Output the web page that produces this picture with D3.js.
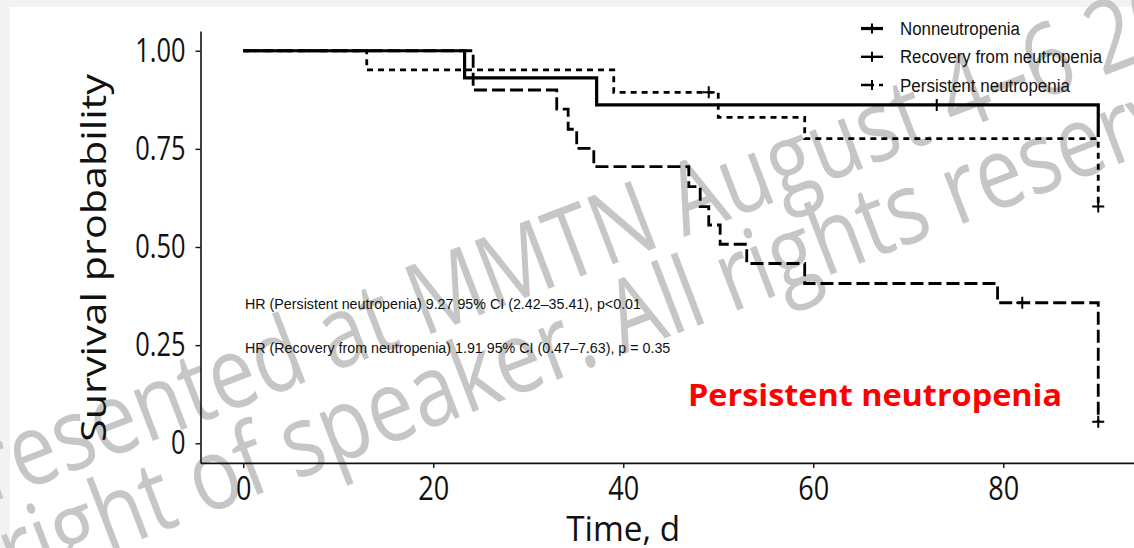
<!DOCTYPE html>
<html>
<head>
<meta charset="utf-8">
<script src="https://cdn.jsdelivr.net/npm/d3@7"></script>
<style>
  body { margin: 0; background: #f3f3f3; }
  svg { display: block; }
</style>
</head>
<body>
<svg id="chart" width="1134" height="548"></svg>
<script>
// KM step values (time in days, survival probability)
const groups = ['Nonneutropenia', 'Recovery from neutropenia', 'Persistent neutropenia'];

const nonTimes = [0, 23.3, 37.2, 90];
const nonSurv = [1, 0.931, 0.862, 0.78];
const nonCensor = [73];

const recTimes = [0, 13, 39, 50, 59.1, 90];
const recSurv = [1, 0.951, 0.894, 0.83, 0.776, 0.603];
const recCensor = [49, 90];

const perTimes = [0, 24.2, 33, 34.2, 35.1, 36.9, 46.9, 48.1, 49, 50.2, 53, 59.1, 79.4, 90];
const perSurv = [1, 0.9, 0.851, 0.8, 0.751, 0.705, 0.654, 0.603, 0.556, 0.507, 0.458, 0.407, 0.358, 0.055];
const perCensor = [82, 90];

const xTicks = [0, 20, 40, 60, 80];
const yTicks = [0, 0.25, 0.5, 0.75, 1];
const yTickLabels = ['0', '0.25', '0.50', '0.75', '1.00'];

const hrLines = [
  'HR (Persistent neutropenia) 9.27 95% CI (2.42–35.41), p<0.01',
  'HR (Recovery from neutropenia) 1.91 95% CI (0.47–7.63), p = 0.35'
];
const callout = 'Persistent neutropenia';
const watermark = ['Presented at MMTN August 4–6 2023', 'Copyright of speaker. All rights reserved'];

// squash glyphs horizontally, the slide image is stretched vertically
function squeeze(sel, k) {
  sel.each(function() {
    const w = this.getComputedTextLength();
    d3.select(this).attr('textLength', w * k).attr('lengthAdjust', 'spacingAndGlyphs');
  });
}
function fitTo(sel, w) {
  sel.attr('textLength', w).attr('lengthAdjust', 'spacingAndGlyphs');
}

class SurvivalPlot {
  constructor(_config) {
    this.config = {
      selection: _config.selection,
      containerWidth: _config.containerWidth || 1134,
      containerHeight: _config.containerHeight || 548,
    };
    this.series = _config.series;
    this.margin = { left: 200.5, top: 31.1, bottom: 85.1 };
    this.init();
  }

  init() {
    let vis = this;
    vis.svg = d3.select(vis.config.selection);

    vis.svg.append('rect')
      .attr('x', 10).attr('y', 7)
      .attr('width', vis.config.containerWidth)
      .attr('height', vis.config.containerHeight)
      .style('fill', 'white');

    // faint slide watermark, sits under the plot
    const wm = vis.svg.append('g').attr('class', 'watermark')
      .style('font-family', '"Open Sans", sans-serif')
      .style('font-size', '100px')
      .style('fill', '#c6c6c6');
    wm.append('text')
      .attr('transform', 'translate(-56,521) rotate(-21)')
      .text(watermark[0])
      .call(fitTo, 1430);
    wm.append('text')
      .attr('transform', 'translate(-168,658) rotate(-21)')
      .text(watermark[1])
      .call(fitTo, 1544);

    vis.xScale = d3.scaleLinear()
      .domain([-4.5, 94.5])
      .range([vis.margin.left, vis.margin.left + 940.5]);
    vis.yScale = d3.scaleLinear()
      .domain([-0.05, 1.05])
      .range([vis.config.containerHeight - vis.margin.bottom, vis.margin.top]);
  }

  render() {
    let vis = this;
    const h = vis.config.containerHeight - vis.margin.bottom;

    const yAxis = d3.axisLeft(vis.yScale)
      .tickValues(yTicks)
      .tickFormat((d, i) => yTickLabels[i])
      .tickSize(5).tickSizeOuter(0).tickPadding(10);
    const xAxis = d3.axisBottom(vis.xScale)
      .tickValues(xTicks)
      .tickSize(5).tickSizeOuter(0).tickPadding(9);

    const yAxisG = vis.svg.append('g')
      .attr('transform', `translate(${vis.margin.left},0)`)
      .call(yAxis);
    const xAxisG = vis.svg.append('g')
      .attr('transform', `translate(0,${h})`)
      .call(xAxis);

    [yAxisG, xAxisG].forEach(g => {
      g.select('.domain').attr('stroke', '#111').attr('stroke-width', 1.6);
      g.selectAll('.tick line').attr('stroke', '#111').attr('stroke-width', 1.4);
      g.selectAll('.tick text')
        .attr('fill', '#111')
        .style('font-family', '"Open Sans", sans-serif')
        .style('font-size', '33px');
    });
    yAxisG.selectAll('.tick text').call(squeeze, 0.77);
    xAxisG.selectAll('.tick text').call(squeeze, 0.82);

    vis.svg.append('text')
      .attr('transform', 'translate(106,258) rotate(-90)')
      .attr('text-anchor', 'middle')
      .style('font-family', '"Open Sans", sans-serif')
      .style('font-size', '34px')
      .attr('fill', '#111')
      .text('Survival probability')
      .call(fitTo, 368);

    vis.svg.append('text')
      .attr('x', vis.xScale(40)).attr('y', 541)
      .attr('text-anchor', 'middle')
      .style('font-family', '"Open Sans", sans-serif')
      .style('font-size', '35px')
      .attr('fill', '#111')
      .text('Time, d')
      .call(fitTo, 114);

    // step curves
    const line = d3.line()
      .x(d => vis.xScale(d[0]))
      .y(d => vis.yScale(d[1]))
      .curve(d3.curveStepAfter);

    const survAt = (s, t) => s.surv[d3.bisectRight(s.times, t) - 1];

    vis.svg.append('g').selectAll('path')
      .data(vis.series)
      .join('path')
      .attr('d', s => line(d3.zip(s.times, s.surv)))
      .attr('fill', 'none')
      .attr('stroke', '#000')
      .attr('stroke-width', s => s.dash ? 2.8 : 3.2)
      .attr('stroke-dasharray', s => s.dash);

    const plus = 'M-6,0H6M0,-6V6';
    vis.svg.append('g').selectAll('path')
      .data(vis.series.flatMap(s => s.censor.map(t => ({ t: t, v: survAt(s, t) }))))
      .join('path')
      .attr('d', plus)
      .attr('transform', d => `translate(${vis.xScale(d.t)},${vis.yScale(d.v)})`)
      .attr('stroke', '#000')
      .attr('stroke-width', 2);

    // legend
    const legend = vis.svg.append('g')
      .attr('transform', 'translate(861,0)');
    const rowY = [28.5, 56.8, 85];
    const rowW = [120, 202, 170];
    const keyDash = [null, null, '13,5'];
    groups.forEach((g, i) => {
      const row = legend.append('g').attr('transform', `translate(0,${rowY[i]})`);
      row.append('line')
        .attr('x1', 0).attr('x2', 22)
        .attr('stroke', '#000')
        .attr('stroke-width', i === 0 ? 3.2 : 2.4)
        .attr('stroke-dasharray', keyDash[i]);
      row.append('path')
        .attr('d', 'M11,-5V5')
        .attr('stroke', '#000')
        .attr('stroke-width', 2);
      row.append('text')
        .attr('x', 39).attr('y', 6.5)
        .style('font-family', '"Liberation Sans", Arial, sans-serif')
        .style('font-size', '18px')
        .attr('fill', '#111')
        .text(g)
        .call(fitTo, rowW[i]);
    });

    // hazard ratio notes
    vis.svg.append('g').selectAll('text')
      .data(hrLines)
      .join('text')
      .attr('x', 245)
      .attr('y', (d, i) => 308.5 + i * 44)
      .style('font-family', '"Liberation Sans", Arial, sans-serif')
      .style('font-size', '15.5px')
      .attr('fill', '#111')
      .text(d => d)
      .call(squeeze, 0.92);

    vis.svg.append('text')
      .attr('x', 688).attr('y', 406)
      .style('font-family', '"Open Sans", sans-serif')
      .style('font-size', '31px')
      .style('font-weight', 700)
      .attr('fill', '#ff0000')
      .text(callout)
      .call(fitTo, 374);
  }
}

const plot = new SurvivalPlot({
  selection: '#chart',
  series: [
    { name: groups[0], times: nonTimes, surv: nonSurv, censor: nonCensor, dash: null },
    { name: groups[1], times: recTimes, surv: recSurv, censor: recCensor, dash: '6,5' },
    { name: groups[2], times: perTimes, surv: perSurv, censor: perCensor, dash: '13,5' },
  ],
});
plot.render();
</script>
</body>
</html>
